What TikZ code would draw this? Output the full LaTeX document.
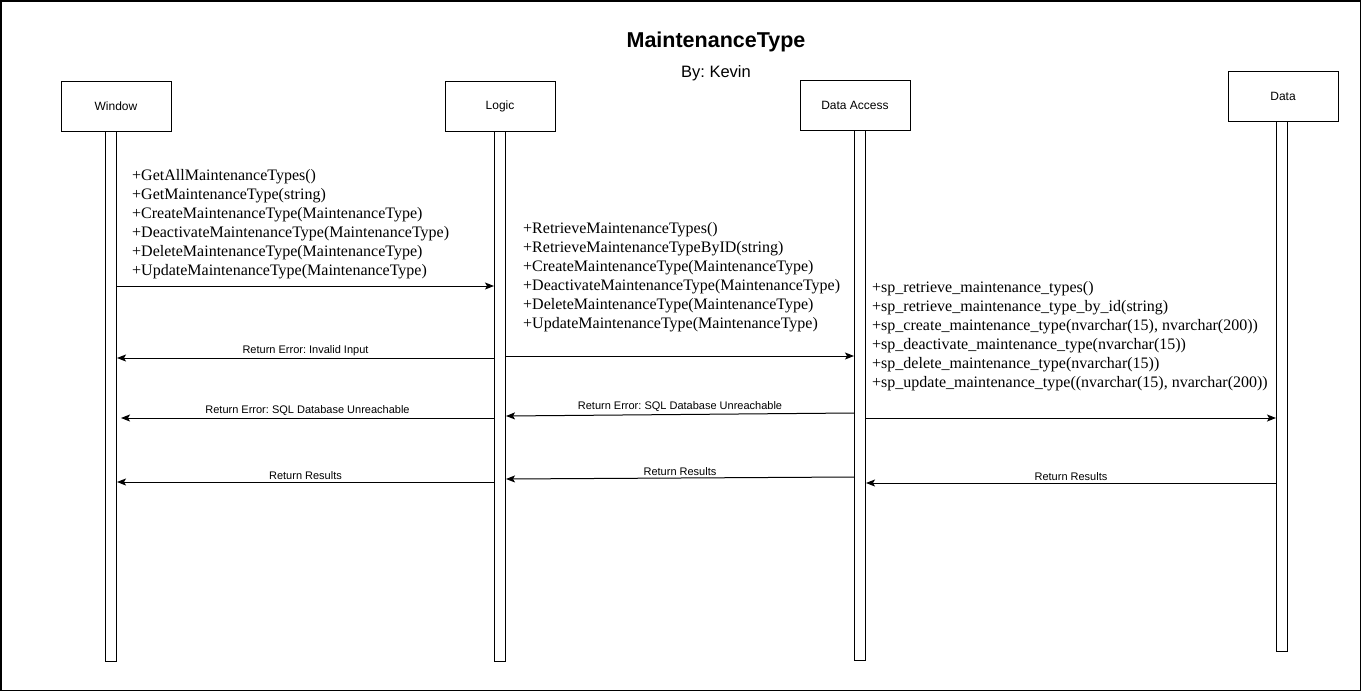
\documentclass[tikz,border=0pt]{standalone}
\usepackage{fontspec}
\setmainfont{Liberation Serif}
\setsansfont{Liberation Sans}
\usetikzlibrary{arrows.meta,calc}
\frenchspacing
\begin{document}
\begin{tikzpicture}[x=1pt,y=-1pt,
  head/.style={draw, line width=1pt, minimum width=110pt, minimum height=50pt, inner sep=0pt, font=\sffamily\fontsize{12}{14}\selectfont},
  life/.style={draw, line width=1pt, minimum width=11pt, inner sep=0pt, anchor=north},
  msg/.style={line width=1pt, -{Stealth[length=9pt,width=7pt,inset=2pt]}},
  lbl/.style={font=\sffamily\fontsize{11}{13}\selectfont, inner sep=0pt, midway, above=2pt},
  ops/.style={font=\fontsize{16}{19}\selectfont, align=left, anchor=north west, inner sep=0pt}]
\useasboundingbox (0,0) rectangle (1361,691);
\draw[line width=1.5pt] (0.75,0.75) rectangle (1360.25,690.25);

\node[font=\sffamily\bfseries\fontsize{21.5}{24}\selectfont] (title) at (716,42) {MaintenanceType};
\node[font=\sffamily\fontsize{16.5}{19}\selectfont] (author) at (716,73) {By: Kevin};

% headers
\node[head] (w) at (116,106) {Window};
\node[head] (l) at (500,106) {Logic};
\node[head] (da) at (855,105) {Data Access};
\node[head] (d) at (1283,96) {Data};

% lifelines
\node[life, minimum height=530pt] (wl) at (111,131) {};
\node[life, minimum height=530pt] (ll) at (500,131) {};
\node[life, minimum height=530pt] (dal) at (860,130) {};
\node[life, minimum height=530pt] (dl) at (1282,121) {};

% operation lists
\node[ops] (ops1) at (132,169) {+GetAllMaintenanceTypes()\\+GetMaintenanceType(string)\\+CreateMaintenanceType(MaintenanceType)\\+DeactivateMaintenanceType(MaintenanceType)\\+DeleteMaintenanceType(MaintenanceType)\\+UpdateMaintenanceType(MaintenanceType)};
\node[ops] (ops2) at (523,222) {+RetrieveMaintenanceTypes()\\+RetrieveMaintenanceTypeByID(string)\\+CreateMaintenanceType(MaintenanceType)\\+DeactivateMaintenanceType(MaintenanceType)\\+DeleteMaintenanceType(MaintenanceType)\\+UpdateMaintenanceType(MaintenanceType)};
\node[ops] (ops3) at (872,281) {+sp\_retrieve\_maintenance\_types()\\+sp\_retrieve\_maintenance\_type\_by\_id(string)\\+sp\_create\_maintenance\_type(nvarchar(15), nvarchar(200))\\+sp\_deactivate\_maintenance\_type(nvarchar(15))\\+sp\_delete\_maintenance\_type(nvarchar(15))\\+sp\_update\_maintenance\_type((nvarchar(15), nvarchar(200))};

% calls
\draw[msg] (wl.east |- 0,286) -- (ll.west |- 0,286);
\draw[msg] (ll.east |- 0,356) -- (dal.west |- 0,356);
\draw[msg] (dal.east |- 0,418) -- (dl.west |- 0,418);

% returns
\draw[msg] (ll.west |- 0,358) -- node[lbl] {Return Error: Invalid Input} (wl.east |- 0,358);
\draw[msg] (ll.west |- 0,418) -- node[lbl] {Return Error: SQL Database Unreachable} ($(wl.east |- 0,418)+(4,0)$);
\draw[msg] (ll.west |- 0,482) -- node[lbl] {Return Results} (wl.east |- 0,482);
\draw[msg] (dal.west |- 0,413) -- node[lbl] {Return Error: SQL Database Unreachable} (ll.east |- 0,416);
\draw[msg] (dal.west |- 0,477) -- node[lbl] {Return Results} (ll.east |- 0,479);
\draw[msg] (dl.west |- 0,483) -- node[lbl] {Return Results} (dal.east |- 0,483);
\end{tikzpicture}
\end{document}
